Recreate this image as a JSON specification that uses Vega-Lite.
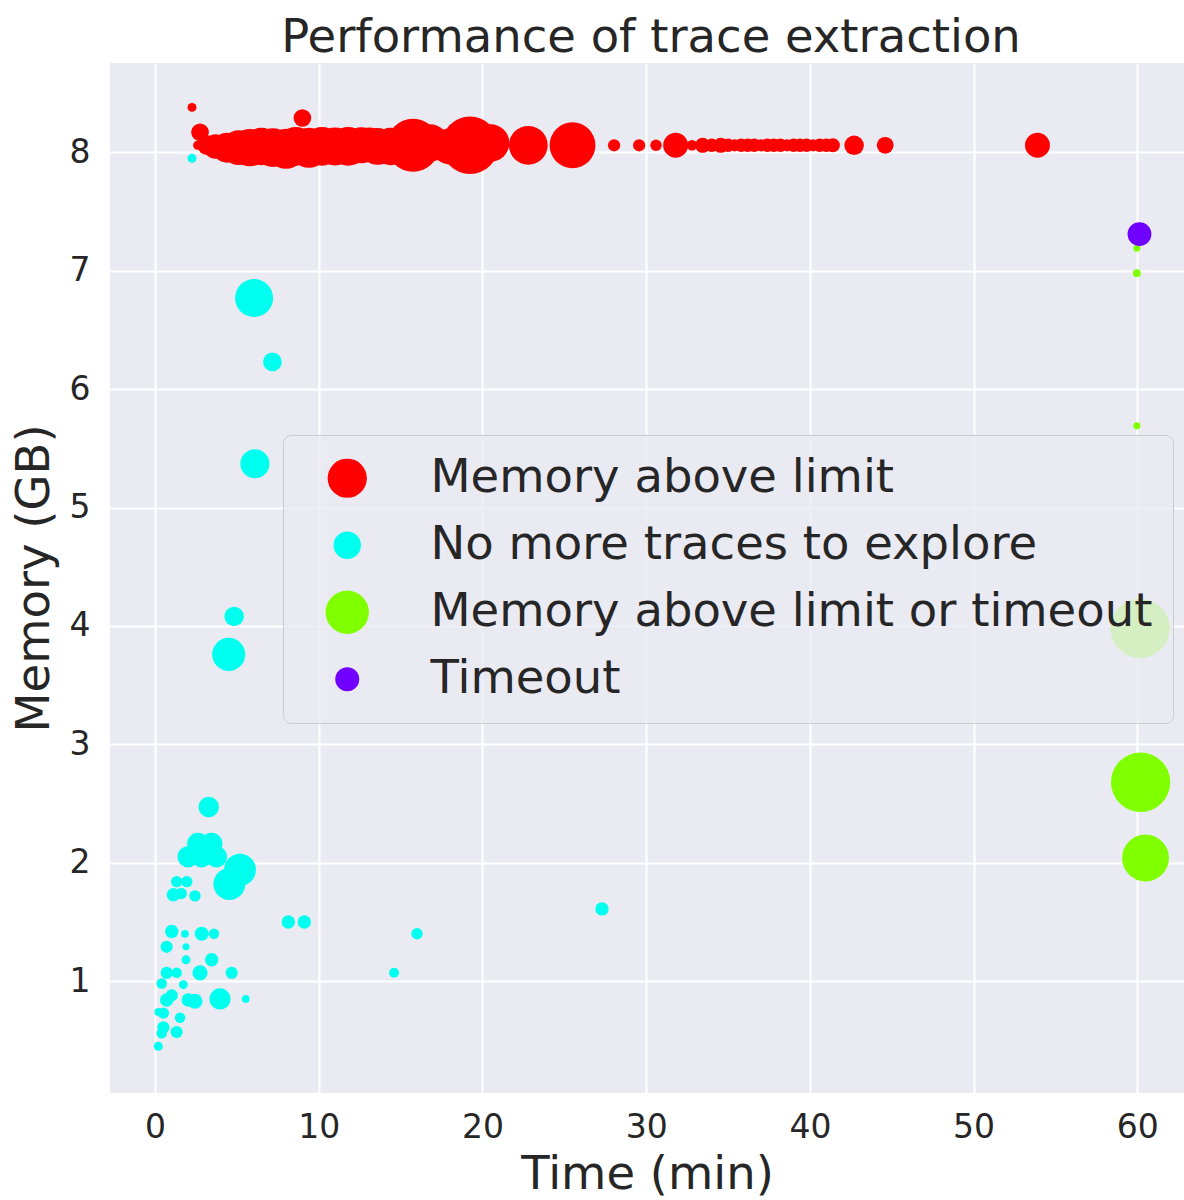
{
  "$schema": "https://vega.github.io/schema/vega-lite/v6.json",
  "width": 1074,
  "height": 1030,
  "autosize": {"type": "none"},
  "padding": {"left": 110, "top": 63, "right": 0, "bottom": 107},
  "background": "white",
  "title": {"text": "Performance of trace extraction", "fontSize": 46.5, "font": "DejaVu Sans", "fontWeight": "normal", "color": "#262626", "anchor": "middle", "offset": 2, "dx": 4},
  "config": {
    "view": {"fill": "#EAEAF2", "stroke": null},
    "axis": {"domain": false, "ticks": false, "gridColor": "white", "gridWidth": 2, "gridOpacity": 1, "labelFont": "DejaVu Sans", "labelFontSize": 33, "labelColor": "#262626", "titleFont": "DejaVu Sans", "titleFontSize": 46.5, "titleFontWeight": "normal", "titleColor": "#262626"}
  },
  "data": {"values": [
    {"time": 2.26, "memory": 8.38, "traces": 8, "status": "Memory above limit"},
    {"time": 2.75, "memory": 8.17, "traces": 31, "status": "Memory above limit"},
    {"time": 2.6, "memory": 8.06, "traces": 8, "status": "Memory above limit"},
    {"time": 3.2, "memory": 8.06, "traces": 40, "status": "Memory above limit"},
    {"time": 3.7, "memory": 8.05, "traces": 60, "status": "Memory above limit"},
    {"time": 4.4, "memory": 8.04, "traces": 90, "status": "Memory above limit"},
    {"time": 5.1, "memory": 8.04, "traces": 120, "status": "Memory above limit"},
    {"time": 5.8, "memory": 8.04, "traces": 140, "status": "Memory above limit"},
    {"time": 6.5, "memory": 8.05, "traces": 140, "status": "Memory above limit"},
    {"time": 7.2, "memory": 8.04, "traces": 150, "status": "Memory above limit"},
    {"time": 8.0, "memory": 8.03, "traces": 160, "status": "Memory above limit"},
    {"time": 8.6, "memory": 8.05, "traces": 150, "status": "Memory above limit"},
    {"time": 9.0, "memory": 8.29, "traces": 31, "status": "Memory above limit"},
    {"time": 9.4, "memory": 8.04, "traces": 160, "status": "Memory above limit"},
    {"time": 10.2, "memory": 8.05, "traces": 150, "status": "Memory above limit"},
    {"time": 11.0, "memory": 8.05, "traces": 145, "status": "Memory above limit"},
    {"time": 11.8, "memory": 8.05, "traces": 150, "status": "Memory above limit"},
    {"time": 12.6, "memory": 8.06, "traces": 130, "status": "Memory above limit"},
    {"time": 13.1, "memory": 8.09, "traces": 80, "status": "Memory above limit"},
    {"time": 13.6, "memory": 8.05, "traces": 135, "status": "Memory above limit"},
    {"time": 14.4, "memory": 8.05, "traces": 140, "status": "Memory above limit"},
    {"time": 15.76, "memory": 8.06, "traces": 280, "status": "Memory above limit"},
    {"time": 16.8, "memory": 8.08, "traces": 140, "status": "Memory above limit"},
    {"time": 18.0, "memory": 8.05, "traces": 130, "status": "Memory above limit"},
    {"time": 19.24, "memory": 8.06, "traces": 330, "status": "Memory above limit"},
    {"time": 20.5, "memory": 8.08, "traces": 140, "status": "Memory above limit"},
    {"time": 22.8, "memory": 8.06, "traces": 150, "status": "Memory above limit"},
    {"time": 25.5, "memory": 8.06, "traces": 210, "status": "Memory above limit"},
    {"time": 28.04, "memory": 8.06, "traces": 15, "status": "Memory above limit"},
    {"time": 29.57, "memory": 8.06, "traces": 15, "status": "Memory above limit"},
    {"time": 30.6, "memory": 8.06, "traces": 13, "status": "Memory above limit"},
    {"time": 31.8, "memory": 8.06, "traces": 62, "status": "Memory above limit"},
    {"time": 32.8, "memory": 8.06, "traces": 11, "status": "Memory above limit"},
    {"time": 33.45, "memory": 8.06, "traces": 23, "status": "Memory above limit"},
    {"time": 34.0, "memory": 8.06, "traces": 18, "status": "Memory above limit"},
    {"time": 34.55, "memory": 8.06, "traces": 23, "status": "Memory above limit"},
    {"time": 35.0, "memory": 8.06, "traces": 18, "status": "Memory above limit"},
    {"time": 35.4, "memory": 8.06, "traces": 15, "status": "Memory above limit"},
    {"time": 35.8, "memory": 8.06, "traces": 18, "status": "Memory above limit"},
    {"time": 36.2, "memory": 8.06, "traces": 18, "status": "Memory above limit"},
    {"time": 36.6, "memory": 8.06, "traces": 18, "status": "Memory above limit"},
    {"time": 37.0, "memory": 8.06, "traces": 15, "status": "Memory above limit"},
    {"time": 37.4, "memory": 8.06, "traces": 18, "status": "Memory above limit"},
    {"time": 37.8, "memory": 8.06, "traces": 18, "status": "Memory above limit"},
    {"time": 38.2, "memory": 8.06, "traces": 18, "status": "Memory above limit"},
    {"time": 38.6, "memory": 8.06, "traces": 15, "status": "Memory above limit"},
    {"time": 39.0, "memory": 8.06, "traces": 18, "status": "Memory above limit"},
    {"time": 39.4, "memory": 8.06, "traces": 18, "status": "Memory above limit"},
    {"time": 39.8, "memory": 8.06, "traces": 18, "status": "Memory above limit"},
    {"time": 40.2, "memory": 8.06, "traces": 15, "status": "Memory above limit"},
    {"time": 40.6, "memory": 8.06, "traces": 18, "status": "Memory above limit"},
    {"time": 41.0, "memory": 8.06, "traces": 18, "status": "Memory above limit"},
    {"time": 41.4, "memory": 8.06, "traces": 20, "status": "Memory above limit"},
    {"time": 42.7, "memory": 8.06, "traces": 38, "status": "Memory above limit"},
    {"time": 44.6, "memory": 8.06, "traces": 28, "status": "Memory above limit"},
    {"time": 53.9, "memory": 8.06, "traces": 62, "status": "Memory above limit"},
    {"time": 2.26, "memory": 7.95, "traces": 8, "status": "No more traces to explore"},
    {"time": 6.05, "memory": 6.77, "traces": 145, "status": "No more traces to explore"},
    {"time": 7.17, "memory": 6.23, "traces": 35, "status": "No more traces to explore"},
    {"time": 6.1, "memory": 5.37, "traces": 85, "status": "No more traces to explore"},
    {"time": 4.83, "memory": 4.08, "traces": 38, "status": "No more traces to explore"},
    {"time": 4.5, "memory": 3.76, "traces": 110, "status": "No more traces to explore"},
    {"time": 3.28, "memory": 2.47, "traces": 42, "status": "No more traces to explore"},
    {"time": 2.63, "memory": 2.16, "traces": 48, "status": "No more traces to explore"},
    {"time": 3.45, "memory": 2.16, "traces": 48, "status": "No more traces to explore"},
    {"time": 2.02, "memory": 2.05, "traces": 45, "status": "No more traces to explore"},
    {"time": 2.84, "memory": 2.05, "traces": 45, "status": "No more traces to explore"},
    {"time": 3.75, "memory": 2.05, "traces": 45, "status": "No more traces to explore"},
    {"time": 5.19, "memory": 1.94, "traces": 102, "status": "No more traces to explore"},
    {"time": 4.54, "memory": 1.82, "traces": 102, "status": "No more traces to explore"},
    {"time": 1.32, "memory": 1.84, "traces": 13, "status": "No more traces to explore"},
    {"time": 1.94, "memory": 1.84, "traces": 13, "status": "No more traces to explore"},
    {"time": 1.12, "memory": 1.73, "traces": 18, "status": "No more traces to explore"},
    {"time": 1.6, "memory": 1.74, "traces": 13, "status": "No more traces to explore"},
    {"time": 2.44, "memory": 1.72, "traces": 13, "status": "No more traces to explore"},
    {"time": 8.14, "memory": 1.5, "traces": 18, "status": "No more traces to explore"},
    {"time": 9.12, "memory": 1.5, "traces": 18, "status": "No more traces to explore"},
    {"time": 1.02, "memory": 1.42, "traces": 18, "status": "No more traces to explore"},
    {"time": 1.83, "memory": 1.4, "traces": 6, "status": "No more traces to explore"},
    {"time": 2.85, "memory": 1.4, "traces": 20, "status": "No more traces to explore"},
    {"time": 3.6, "memory": 1.4, "traces": 11, "status": "No more traces to explore"},
    {"time": 0.71, "memory": 1.29, "traces": 15, "status": "No more traces to explore"},
    {"time": 1.89, "memory": 1.29, "traces": 5, "status": "No more traces to explore"},
    {"time": 1.89, "memory": 1.18, "traces": 8, "status": "No more traces to explore"},
    {"time": 3.46, "memory": 1.18, "traces": 18, "status": "No more traces to explore"},
    {"time": 2.75, "memory": 1.07, "traces": 23, "status": "No more traces to explore"},
    {"time": 4.68, "memory": 1.07, "traces": 15, "status": "No more traces to explore"},
    {"time": 0.71, "memory": 1.07, "traces": 15, "status": "No more traces to explore"},
    {"time": 1.32, "memory": 1.07, "traces": 11, "status": "No more traces to explore"},
    {"time": 0.41, "memory": 0.98, "traces": 11, "status": "No more traces to explore"},
    {"time": 1.73, "memory": 0.97, "traces": 8, "status": "No more traces to explore"},
    {"time": 3.97, "memory": 0.85, "traces": 45, "status": "No more traces to explore"},
    {"time": 5.54, "memory": 0.85, "traces": 6, "status": "No more traces to explore"},
    {"time": 2.44, "memory": 0.83, "traces": 23, "status": "No more traces to explore"},
    {"time": 2.03, "memory": 0.84, "traces": 18, "status": "No more traces to explore"},
    {"time": 0.71, "memory": 0.84, "traces": 18, "status": "No more traces to explore"},
    {"time": 1.02, "memory": 0.88, "traces": 15, "status": "No more traces to explore"},
    {"time": 0.2, "memory": 0.74, "traces": 6, "status": "No more traces to explore"},
    {"time": 0.51, "memory": 0.73, "traces": 13, "status": "No more traces to explore"},
    {"time": 1.53, "memory": 0.69, "traces": 11, "status": "No more traces to explore"},
    {"time": 0.51, "memory": 0.61, "traces": 15, "status": "No more traces to explore"},
    {"time": 1.32, "memory": 0.57, "traces": 15, "status": "No more traces to explore"},
    {"time": 0.41, "memory": 0.56, "traces": 11, "status": "No more traces to explore"},
    {"time": 0.2, "memory": 0.45, "traces": 8, "status": "No more traces to explore"},
    {"time": 16.0, "memory": 1.4, "traces": 13, "status": "No more traces to explore"},
    {"time": 14.6, "memory": 1.07, "traces": 10, "status": "No more traces to explore"},
    {"time": 27.3, "memory": 1.61, "traces": 18, "status": "No more traces to explore"},
    {"time": 59.97, "memory": 7.19, "traces": 5, "status": "Memory above limit or timeout"},
    {"time": 59.97, "memory": 6.98, "traces": 6, "status": "Memory above limit or timeout"},
    {"time": 59.97, "memory": 5.69, "traces": 5, "status": "Memory above limit or timeout"},
    {"time": 60.17, "memory": 3.98, "traces": 352, "status": "Memory above limit or timeout"},
    {"time": 60.2, "memory": 2.68, "traces": 352, "status": "Memory above limit or timeout"},
    {"time": 60.5, "memory": 2.04, "traces": 220, "status": "Memory above limit or timeout"},
    {"time": 60.13, "memory": 7.31, "traces": 57, "status": "Timeout"}
  ]},
  "mark": {"type": "point", "filled": true, "shape": "circle", "opacity": 1, "strokeWidth": 0},
  "encoding": {
    "x": {"field": "time", "type": "quantitative", "title": "Time (min)",
      "scale": {"domain": [-2.75, 62.85], "nice": false, "zero": false},
      "axis": {"values": [0, 10, 20, 30, 40, 50, 60], "labelPadding": 18, "titlePadding": 7}},
    "y": {"field": "memory", "type": "quantitative", "title": "Memory (GB)",
      "scale": {"domain": [0.055, 8.755], "nice": false, "zero": false},
      "axis": {"values": [1, 2, 3, 4, 5, 6, 7, 8], "labelPadding": 20, "titlePadding": 11}},
    "size": {"field": "traces", "type": "quantitative", "scale": {"type": "linear", "domain": [0, 400], "range": [0, 4000], "zero": true}, "legend": null},
    "color": {"field": "status", "type": "nominal",
      "scale": {"domain": ["Memory above limit", "No more traces to explore", "Memory above limit or timeout", "Timeout"], "range": ["#FF0000", "#00FFEE", "#80FF00", "#7000FF"]},
      "legend": {"title": null, "orient": "none", "legendX": 173, "legendY": 372, "direction": "vertical",
        "fillColor": "rgba(234,234,242,0.8)", "strokeColor": "#CCCCCC", "cornerRadius": 8, "padding": 20,
        "symbolType": "circle", "symbolSize": 1800, "symbolStrokeWidth": 0, "symbolOpacity": 1, "symbolOffset": 21,
        "labelOffset": 60, "labelFont": "DejaVu Sans", "labelFontSize": 46.5, "labelColor": "#262626", "labelLimit": 0, "rowPadding": 20,
        "encode": {"symbols": {"update": {"size": {"signal": "datum.value == 'Memory above limit' ? 1540 : datum.value == 'No more traces to explore' ? 755 : datum.value == 'Memory above limit or timeout' ? 1885 : 573"}}}}}
    }
  }
}
